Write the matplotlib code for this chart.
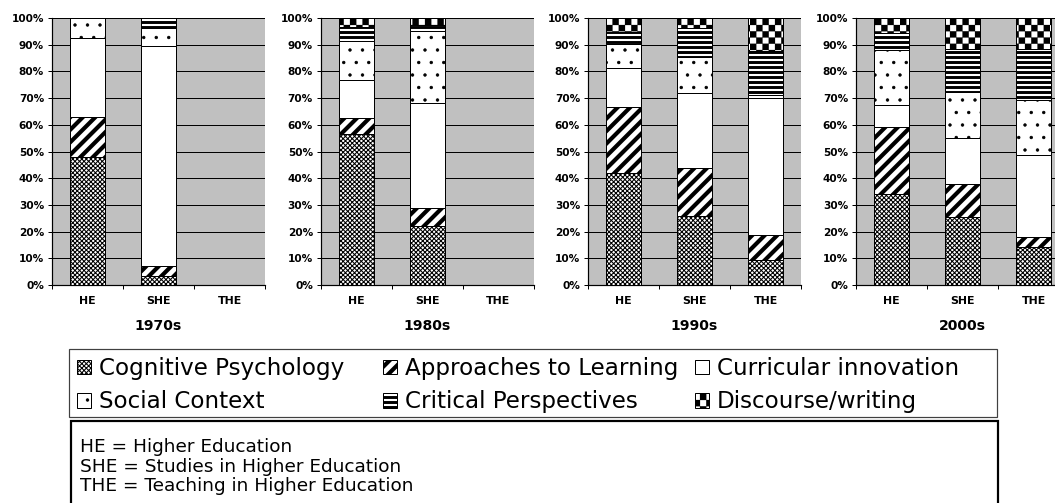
import numpy as np
import matplotlib
matplotlib.use("Agg")
import matplotlib.pyplot as plt
import matplotlib.hatch as mhatch
from matplotlib.path import Path
from matplotlib.patches import Rectangle
from matplotlib.ticker import FixedLocator, PercentFormatter

# ---------------- data (percent of articles) ----------------
decades = ["1970s", "1980s", "1990s", "2000s"]
journals = ["HE", "SHE", "THE"]
topics = ["Cognitive Psychology", "Approaches to Learning", "Curricular innovation",
          "Social Context", "Critical Perspectives", "Discourse/writing"]

# rows = decades, columns = journals (HE, SHE, THE)
cognitive_psychology = [[48.0, 3.5, 0.0], [56.6, 22.0, 0.0], [42.0, 26.0, 9.4], [34.0, 25.4, 14.4]]
approaches_to_learning = [[15.0, 3.7, 0.0], [5.8, 7.0, 0.0], [24.5, 18.0, 9.5], [25.3, 12.6, 3.7]]
curricular_innovation = [[29.5, 82.2, 0.0], [14.4, 39.0, 0.0], [14.8, 27.75, 51.1], [8.0, 17.0, 30.5]]
social_context = [[7.5, 7.0, 0.0], [14.6, 27.0, 0.0], [9.0, 13.6, 1.25], [20.8, 17.1, 20.8]]
critical_perspectives = [[0.0, 3.6, 0.0], [5.3, 2.5, 0.0], [4.5, 10.9, 16.5], [6.3, 16.3, 19.0]]
discourse_writing = [[0.0, 0.0, 0.0], [3.3, 2.5, 0.0], [5.2, 3.75, 12.25], [5.6, 11.6, 11.6]]

abbreviations = ["HE = Higher Education",
                 "SHE = Studies in Higher Education",
                 "THE = Teaching in Higher Education"]

series = [cognitive_psychology, approaches_to_learning, curricular_innovation,
          social_context, critical_perspectives, discourse_writing]

# ---------------- custom checkerboard hatch (replaces '*') ----------------
class CheckerHatch(mhatch.HatchPatternBase):
    def __init__(self, hatch, density):
        n = int(hatch.count("*") * density)
        if n % 2:
            n += 1
        self.num_cells = n
        self.num_vertices = (n * n // 2) * 5 if n else 0

    def set_vertices_and_codes(self, vertices, codes):
        n = self.num_cells
        s = 1.0 / n
        k = 0
        for i in range(n):
            for j in range(n):
                if (i + j) % 2 == 0:
                    x0, y0 = i * s, j * s
                    vertices[k:k + 5] = [(x0, y0), (x0 + s, y0), (x0 + s, y0 + s),
                                         (x0, y0 + s), (x0, y0)]
                    codes[k] = Path.MOVETO
                    codes[k + 1:k + 4] = Path.LINETO
                    codes[k + 4] = Path.CLOSEPOLY
                    k += 5

mhatch._hatch_types[:] = [t for t in mhatch._hatch_types
                          if t.__name__ != "Stars"] + [CheckerHatch]

# ---------------- styling ----------------
DPI = 150
W, H = 1055, 503
PT = 72.0 / DPI  # points per pixel

def px(v):
    return v * PT

plt.rcParams["font.family"] = ["DejaVu Sans"]

styles = [
    dict(hatch="x" * 11, hlw=0.5),    # Cognitive
    dict(hatch="////", hlw=2.0),      # Approaches
    dict(hatch=None, hlw=0.5),        # Curricular
    dict(hatch="..", hlw=0.4),        # Social
    dict(hatch="-----", hlw=1.4),     # Critical
    dict(hatch="****", hlw=0.1),      # Discourse
]

fig = plt.figure(figsize=(W / DPI, H / DPI), dpi=DPI, facecolor="white")

def fx(x):
    return x / W

def fy(y):
    return 1 - y / H

ax_left = [52, 321, 588, 856]
ax_w = 213
ax_top, ax_bot = 18, 285

x = np.arange(len(journals))
handles = []
for d, dec in enumerate(decades):
    ax = fig.add_axes([fx(ax_left[d]), fy(ax_bot), ax_w / W, (ax_bot - ax_top) / H])
    ax.set_facecolor("#c0c0c0")
    bottom = np.zeros(len(journals))
    for s, data in enumerate(series):
        vals = np.array(data[d]) / 100.0
        st = styles[s]
        with plt.rc_context({"hatch.linewidth": st["hlw"]}):
            bars = ax.bar(x, vals, 0.5, bottom=bottom, color="white",
                          edgecolor="black", linewidth=px(1.0),
                          hatch=st["hatch"], zorder=3)
        for p in bars.patches:
            if hasattr(p, "set_hatch_linewidth"):
                p.set_hatch_linewidth(st["hlw"])
        bottom += vals
        if d == 0:
            handles.append(bars)
    ax.set_xlim(-0.5, 2.5)
    ax.set_ylim(0, 1)
    ax.yaxis.set_major_locator(FixedLocator(np.linspace(0, 1, 11)))
    ax.yaxis.set_major_formatter(PercentFormatter(1.0, decimals=0))
    ax.grid(axis="y", color="black", linewidth=px(1.0), zorder=1)
    ax.set_axisbelow(True)
    ax.set_xticks(x)
    ax.set_xticklabels(journals)
    ax.xaxis.set_minor_locator(FixedLocator([-0.5, 0.5, 1.5, 2.5]))
    ax.tick_params(axis="x", which="major", length=0, pad=px(11),
                   labelsize=px(11), width=0)
    ax.tick_params(axis="x", which="minor", length=px(4), width=px(1.0),
                   direction="out", color="black")
    ax.tick_params(axis="y", length=px(4), width=px(1.0), direction="out",
                   labelsize=px(10.5), pad=px(4))
    for lab in ax.get_xticklabels() + ax.get_yticklabels():
        lab.set_fontweight("bold")
    for side in ("top", "right"):
        ax.spines[side].set_visible(False)
    for side in ("left", "bottom"):
        ax.spines[side].set_linewidth(px(1.2))
        ax.spines[side].set_color("black")
    ax.text(0.5, -(326 - ax_bot) / (ax_bot - ax_top), dec, transform=ax.transAxes,
            ha="center", va="center", fontsize=px(14), fontweight="bold")

# ---------------- legend (three columns) ----------------
leg_fs = px(23)
col_x = [77, 383, 695]
cols = [[0, 3], [1, 4], [2, 5]]
for cx, idxs in zip(col_x, cols):
    leg = fig.legend([handles[i] for i in idxs], [topics[i] for i in idxs],
                     loc="upper left", bbox_to_anchor=(fx(cx), fy(357)),
                     frameon=False, borderpad=0, borderaxespad=0,
                     fontsize=leg_fs, handlelength=0.6, handleheight=0.6,
                     handletextpad=0.35, labelspacing=0.45)
    for i, p in zip(idxs, leg.get_patches()):
        if hasattr(p, "set_hatch_linewidth"):
            p.set_hatch_linewidth(styles[i]["hlw"])

fig.add_artist(Rectangle((fx(69), fy(417)), (997 - 69) / W, (417 - 349) / H,
                         transform=fig.transFigure, fill=False,
                         edgecolor="#404040", linewidth=px(1.2)))
fig.add_artist(Rectangle((fx(71), fy(520)), (998 - 71) / W, (520 - 421) / H,
                         transform=fig.transFigure, fill=False,
                         edgecolor="black", linewidth=px(2.2)))

for k, line in enumerate(abbreviations):
    fig.text(fx(80), fy(447 + 19.5 * k), line, ha="left", va="center",
             fontsize=px(18.5))

fig.savefig("out.png", dpi=DPI, facecolor="white")
